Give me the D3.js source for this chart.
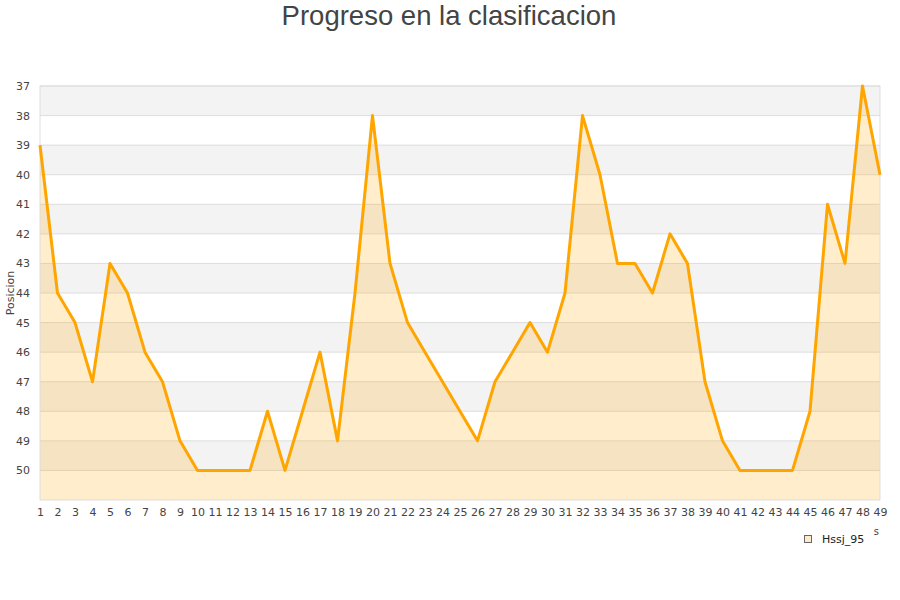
<!DOCTYPE html>
<html>
<head>
<meta charset="utf-8">
<script src="https://cdn.jsdelivr.net/npm/d3@7"></script>
<style>
  body { margin: 0; background: #fff; }
  text { font-family: "DejaVu Sans", sans-serif; fill: #444; }
</style>
</head>
<body>
<svg id="chart" width="900" height="600"></svg>
<script>

const title = "Progreso en la clasificacion";
const seriesName = "Hssj_95";
const jornadas = d3.range(1, 50);
const posiciones = [
    39, 44, 45, 47, 43, 44, 46, 47, 49, 50,
    50, 50, 50, 48, 50, 48, 46, 49, 44, 38,
    43, 45, 46, 47, 48, 49, 47, 46, 45, 46,
    44, 38, 40, 43, 43, 44, 42, 43, 47, 49,
    50, 50, 50, 50, 48, 41, 43, 37, 40
];
const yTicks = d3.range(37, 51);

const data = jornadas.map((j, i) => ({ j: j, pos: posiciones[i] }));

const svg = d3.select("#chart");
const m = { left: 40, right: 880, top: 86, bottom: 500 };

const x = d3.scaleLinear().domain([1, 49]).range([m.left, m.right]);
const y = d3.scaleLinear().domain([37, 51]).range([m.top, m.bottom]);

// title
svg.append("text")
    .attr("x", 449)
    .attr("y", 25)
    .attr("text-anchor", "middle")
    .style("font-family", "'Liberation Sans', Arial, sans-serif")
    .style("font-size", "27.5px")
    .text(title);

// alternating bands
svg.append("g")
    .selectAll("rect")
    .data(d3.range(37, 51))
    .join("rect")
    .attr("x", m.left)
    .attr("width", m.right - m.left)
    .attr("y", d => y(d))
    .attr("height", d => y(d + 1) - y(d))
    .attr("fill", d => d % 2 === 1 ? "#f3f3f3" : "#fff");

// grid
svg.append("g")
    .selectAll("line")
    .data(yTicks)
    .join("line")
    .attr("x1", m.left)
    .attr("x2", m.right)
    .attr("y1", d => y(d))
    .attr("y2", d => y(d))
    .attr("stroke", "#ddd");

// area + line
const area = d3.area()
    .x(d => x(d.j))
    .y0(m.bottom)
    .y1(d => y(d.pos));

const line = d3.line()
    .x(d => x(d.j))
    .y(d => y(d.pos));

svg.append("path")
    .datum(data)
    .attr("d", area)
    .attr("fill", "rgba(255,165,0,0.2)");

svg.append("rect")
    .attr("x", m.left)
    .attr("y", m.top)
    .attr("width", m.right - m.left)
    .attr("height", m.bottom - m.top)
    .attr("fill", "none")
    .attr("stroke", "#ddd");

svg.append("path")
    .datum(data)
    .attr("d", line)
    .attr("fill", "none")
    .attr("stroke", "#FFA500")
    .attr("stroke-width", 3)
    .attr("stroke-linejoin", "round");

// y axis labels
const yAxis = svg.append("g")
    .attr("transform", `translate(${m.left - 8},0)`)
    .call(d3.axisLeft(y).tickValues(yTicks).tickSize(0).tickPadding(2));
yAxis.select(".domain").remove();
yAxis.selectAll("text")
    .style("font-size", "11px")
    .style("fill", "#444")
    .attr("dy", "0.32em");

// x axis labels
const xAxis = svg.append("g")
    .attr("transform", `translate(0,${m.bottom + 8})`)
    .call(d3.axisBottom(x).tickValues(jornadas).tickFormat(d3.format("d")).tickSize(0).tickPadding(0));
xAxis.select(".domain").remove();
xAxis.selectAll("text")
    .style("font-size", "11px")
    .style("fill", "#444")
    .attr("dy", "0.71em");

// axis titles
svg.append("text")
    .attr("transform", "translate(14,293) rotate(-90)")
    .attr("text-anchor", "middle")
    .style("font-size", "11px")
    .text("Posicion");

// only the tail of the x title peeks out from behind the legend
svg.append("text")
    .attr("x", 879)
    .attr("y", 535)
    .attr("text-anchor", "end")
    .style("font-size", "10px")
    .text("s");

// legend
const legend = svg.append("g");
legend.append("rect")
    .attr("x", 804.5)
    .attr("y", 535.5)
    .attr("width", 7)
    .attr("height", 7)
    .attr("fill", "#fdeccc")
    .attr("stroke", "#666");
legend.append("text")
    .attr("x", 822)
    .attr("y", 543)
    .style("font-size", "11px")
    .style("fill", "#222")
    .text(seriesName);

</script>
</body>
</html>
